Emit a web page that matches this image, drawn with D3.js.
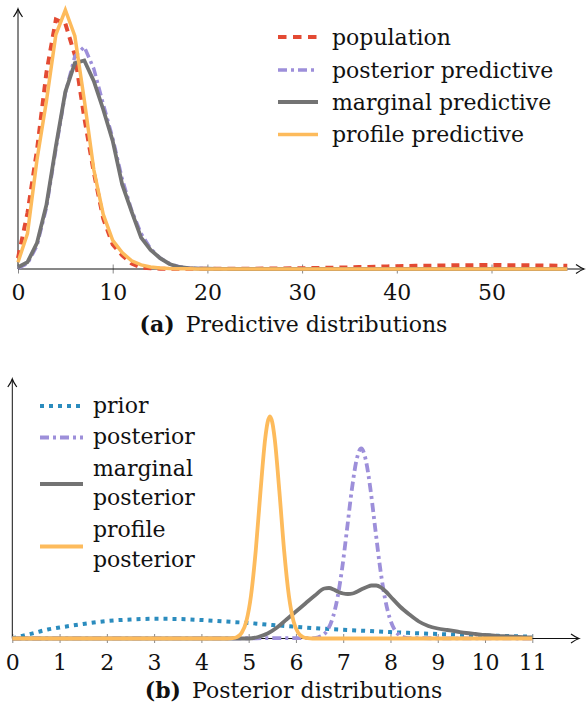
<!DOCTYPE html>
<html>
<head>
<meta charset="utf-8">
<script src="https://cdn.jsdelivr.net/npm/d3@7"></script>
<style>
  body { margin: 0; background: #fff; }
  svg text { font-family: "DejaVu Serif", serif; fill: #111; }
</style>
</head>
<body>
<div id="chart"></div>
<script>
// ---- panel (a): predictive distributions, evaluated at integer counts 0..58 ----
var predCounts = d3.range(0, 59);
var predTicks = [0, 10, 20, 30, 40, 50];

var population = [0.008, 0.041, 0.087, 0.144, 0.183, 0.180, 0.157, 0.111, 0.071, 0.037,
    0.018, 0.010, 0.004, 0.001, 0.0005, 0.0002, 0.0001, 0.0001, 0.0001, 0.0001,
    0.0001, 0.0001, 0.0001, 0.0001, 0.0002, 0.0002, 0.0003, 0.0003, 0.0004, 0.0005,
    0.0006, 0.0007, 0.0008, 0.0009, 0.0011, 0.0012, 0.0014, 0.0015, 0.0017, 0.0019,
    0.0021, 0.0022, 0.0023, 0.0024, 0.0025, 0.0026, 0.0027, 0.0028, 0.0028, 0.0029,
    0.0029, 0.0029, 0.0028, 0.0028, 0.0027, 0.0026, 0.0025, 0.0024, 0.0023];
var posteriorPredictive = [0.0007, 0.004, 0.017, 0.045, 0.088, 0.129, 0.156, 0.163, 0.147, 0.121,
    0.096, 0.066, 0.043, 0.026, 0.015, 0.008, 0.004, 0.0017, 0.0008, 0.0004,
    0.0002, 0.0001, 0.0001, 0, 0, 0, 0, 0, 0, 0,
    0, 0, 0, 0, 0, 0, 0, 0, 0, 0,
    0, 0, 0, 0, 0, 0, 0, 0, 0, 0,
    0, 0, 0, 0, 0, 0, 0, 0, 0];
var marginalPredictive = [0.0013, 0.005, 0.019, 0.047, 0.090, 0.130, 0.151, 0.153, 0.138, 0.117,
    0.094, 0.062, 0.042, 0.023, 0.014, 0.008, 0.0037, 0.0015, 0.0007, 0.0003,
    0.0002, 0.0001, 0.0001, 0, 0, 0, 0, 0, 0, 0,
    0, 0, 0, 0, 0, 0, 0, 0, 0, 0,
    0, 0, 0, 0, 0, 0, 0, 0, 0, 0,
    0, 0, 0, 0, 0, 0, 0, 0, 0];
var profilePredictive = [0.005, 0.026, 0.080, 0.123, 0.172, 0.190, 0.171, 0.124, 0.073, 0.040,
    0.021, 0.012, 0.006, 0.003, 0.0015, 0.0007, 0.0003, 0.0002, 0.0001, 0,
    0, 0, 0, 0, 0, 0, 0, 0, 0, 0,
    0, 0, 0, 0, 0, 0, 0, 0, 0, 0,
    0, 0, 0, 0, 0, 0, 0, 0, 0, 0,
    0, 0, 0, 0, 0, 0, 0, 0, 0];

// ---- panel (b): posterior distributions over the parameter ----
var postTicks = [0, 1, 2, 3, 4, 5, 6, 7, 8, 9, 10, 11];

var priorX = [0, 0.25, 0.5, 0.75, 1, 1.5, 2, 2.5, 3, 3.5, 4, 4.5, 5, 5.5, 6, 6.5, 7, 7.5, 8, 8.5, 9, 9.5, 10, 10.5, 11];
var priorY = [0, 0.03, 0.06, 0.09, 0.11, 0.145, 0.175, 0.19, 0.197, 0.195, 0.185, 0.17, 0.155, 0.135,
    0.117, 0.10, 0.087, 0.076, 0.064, 0.054, 0.045, 0.037, 0.03, 0.024, 0.019];

var posteriorX = [0, 6.38, 6.48, 6.58, 6.68, 6.78, 6.88, 6.98, 7.08, 7.18, 7.28, 7.38,
    7.48, 7.58, 7.68, 7.78, 7.88, 7.98, 8.08, 8.18, 8.28, 8.38, 11];
var posteriorY = [0, 0.004, 0.013, 0.037, 0.093, 0.21, 0.41, 0.71, 1.09, 1.48, 1.78, 1.90,
    1.78, 1.48, 1.09, 0.71, 0.41, 0.21, 0.093, 0.037, 0.013, 0.004, 0];

var marginalX = [0, 5.0, 5.2, 5.4, 5.6, 5.8, 6.0, 6.2, 6.4, 6.6, 6.7, 6.8, 6.9, 7.0, 7.1, 7.2,
    7.3, 7.4, 7.5, 7.6, 7.7, 7.8, 7.9, 8.0, 8.2, 8.4, 8.6, 8.8, 9.0, 9.2, 9.4, 9.6, 9.8,
    10.0, 10.2, 10.4, 10.6, 10.8, 11.0];
var marginalY = [0, 0, 0.015, 0.05, 0.11, 0.19, 0.27, 0.35, 0.43, 0.50, 0.505, 0.49, 0.465,
    0.45, 0.445, 0.45, 0.47, 0.495, 0.515, 0.53, 0.53, 0.51, 0.47, 0.42, 0.32, 0.24, 0.17,
    0.125, 0.10, 0.085, 0.07, 0.055, 0.045, 0.035, 0.028, 0.023, 0.018, 0.014, 0.01];

var profileX = [0, 4.55, 4.65, 4.75, 4.85, 4.95, 5.05, 5.15, 5.25, 5.35, 5.40, 5.45, 5.50,
    5.55, 5.65, 5.75, 5.85, 5.95, 6.05, 6.15, 6.25, 6.35, 11];
var profileY = [0, 0, 0.003, 0.014, 0.054, 0.17, 0.43, 0.88, 1.47, 2.00, 2.16, 2.22, 2.16,
    2.00, 1.47, 0.88, 0.43, 0.17, 0.054, 0.014, 0.003, 0, 0];

var colors = {red: "#e34a33", purple: "#9d8fda", gray: "#737373", orange: "#fdbb5c", blue: "#2b8cbe"};

var width = 587, height = 709;
var svg = d3.select("#chart").append("svg")
    .attr("width", width)
    .attr("height", height);

//draws the little latex-style arrow head at (x,y) pointing in direction dir
function arrowHead(g, x, y, dir) {
    var p = dir === "right"
        ? "M" + (x - 8) + "," + (y - 4.5) + " Q" + (x - 3) + "," + (y - 1) + " " + x + "," + y +
          " Q" + (x - 3) + "," + (y + 1) + " " + (x - 8) + "," + (y + 4.5)
        : "M" + (x - 4.5) + "," + (y + 8) + " Q" + (x - 1) + "," + (y + 3) + " " + x + "," + y +
          " Q" + (x + 1) + "," + (y + 3) + " " + (x + 4.5) + "," + (y + 8);
    g.append("path").attr("d", p)
        .attr("fill", "none").attr("stroke", "#111").attr("stroke-width", 1.2);
}

function drawAxes(g, x, y, ticks, xEnd, yTop, labelOffset) {
    var x0 = x.range()[0], base = y.range()[0];

    var ax = g.append("g")
        .attr("transform", "translate(0," + base + ")")
        .call(d3.axisBottom(x).tickValues(ticks).tickSize(0).tickFormat(d3.format("d")));
    ax.select(".domain").remove();
    ax.selectAll(".tick line")
        .attr("y1", -4.5).attr("y2", 4.5)
        .attr("stroke", "#888").attr("stroke-width", 1);
    ax.selectAll(".tick text")
        .attr("y", labelOffset).attr("dy", null)
        .attr("font-size", 22).attr("font-family", "DejaVu Serif").attr("fill", "#111");

    g.append("line")
        .attr("x1", x0).attr("x2", xEnd).attr("y1", base).attr("y2", base)
        .attr("stroke", "#111").attr("stroke-width", 1);
    g.append("line")
        .attr("x1", x0).attr("x2", x0).attr("y1", base).attr("y2", yTop)
        .attr("stroke", "#111").attr("stroke-width", 1);
    arrowHead(g, xEnd, base, "right");
    arrowHead(g, x0, yTop, "up");
}

function drawLegend(g, items, x1, x2, textX) {
    items.forEach(function(it) {
        g.append("line")
            .attr("x1", x1).attr("x2", x2).attr("y1", it.y).attr("y2", it.y)
            .attr("stroke", it.color).attr("stroke-width", it.width)
            .attr("stroke-dasharray", it.dash);
        it.lines.forEach(function(t, i) {
            g.append("text")
                .attr("x", textX).attr("y", it.textY[i])
                .attr("font-size", 22)
                .text(t);
        });
    });
}

function caption(g, label, rest, y) {
    var t = g.append("text")
        .attr("x", width / 2).attr("y", y)
        .attr("text-anchor", "middle")
        .attr("font-size", 22);
    t.append("tspan").attr("font-weight", "bold").text(label);
    t.append("tspan").text("\u2002" + rest);
}

// ===== panel (a) =====
var gA = svg.append("g");
var xA = d3.scaleLinear().domain([0, 50]).range([18, 491.5]);
var yA = d3.scaleLinear().domain([0, 0.19]).range([269, 10]);

drawAxes(gA, xA, yA, predTicks, 584, 9, 30.5);

var lineA = d3.line()
    .x(function(d) { return xA(d[0]); })
    .y(function(d) { return yA(d[1]); });

var seriesA = [
    {vals: population, color: colors.red, width: 4, dash: "8,6"},
    {vals: posteriorPredictive, color: colors.purple, width: 3.5, dash: "9,4,3,4"},
    {vals: marginalPredictive, color: colors.gray, width: 3.8, dash: null},
    {vals: profilePredictive, color: colors.orange, width: 3.5, dash: null}
];
seriesA.forEach(function(s) {
    gA.append("path")
        .datum(predCounts.map(function(c, i) { return [c, s.vals[i]]; }))
        .attr("d", lineA)
        .attr("fill", "none")
        .attr("stroke", s.color)
        .attr("stroke-width", s.width)
        .attr("stroke-dasharray", s.dash);
});

drawLegend(gA, [
    {y: 37, color: colors.red, width: 4, dash: "8.5,6.5", lines: ["population"], textY: [45]},
    {y: 70, color: colors.purple, width: 3.5, dash: "9,4,3,4", lines: ["posterior predictive"], textY: [78]},
    {y: 102, color: colors.gray, width: 4, dash: null, lines: ["marginal predictive"], textY: [110]},
    {y: 134.5, color: colors.orange, width: 3.5, dash: null, lines: ["profile predictive"], textY: [142]}
], 278, 318, 332);

caption(gA, "(a)", "Predictive distributions", 332);

// ===== panel (b) =====
var gB = svg.append("g");
var xB = d3.scaleLinear().domain([0, 11]).range([12.3, 532.3]);
var yB = d3.scaleLinear().domain([0, 2.6]).range([638.5, 378.5]);

drawAxes(gB, xB, yB, postTicks, 579, 379, 31.5);

var lineB = d3.line()
    .curve(d3.curveMonotoneX)
    .x(function(d) { return xB(d[0]); })
    .y(function(d) { return yB(d[1]); });

var seriesB = [
    {xs: priorX, ys: priorY, color: colors.blue, width: 4, dash: "4,5"},
    {xs: posteriorX, ys: posteriorY, color: colors.purple, width: 3.8, dash: "9,4,3,4"},
    {xs: marginalX, ys: marginalY, color: colors.gray, width: 3.8, dash: null},
    {xs: profileX, ys: profileY, color: colors.orange, width: 3.8, dash: null}
];
seriesB.forEach(function(s) {
    gB.append("path")
        .datum(s.xs.map(function(v, i) { return [v, s.ys[i]]; }))
        .attr("d", lineB)
        .attr("fill", "none")
        .attr("stroke", s.color)
        .attr("stroke-width", s.width)
        .attr("stroke-dasharray", s.dash);
});

drawLegend(gB, [
    {y: 406, color: colors.blue, width: 4, dash: "4,5", lines: ["prior"], textY: [413]},
    {y: 437.5, color: colors.purple, width: 3.8, dash: "9,4,3,4", lines: ["posterior"], textY: [444]},
    {y: 484, color: colors.gray, width: 4, dash: null, lines: ["marginal", "posterior"], textY: [476, 505]},
    {y: 546.5, color: colors.orange, width: 4, dash: null, lines: ["profile", "posterior"], textY: [537, 567]}
], 40, 83, 93);

caption(gB, "(b)", "Posterior distributions", 698);
</script>
</body>
</html>
